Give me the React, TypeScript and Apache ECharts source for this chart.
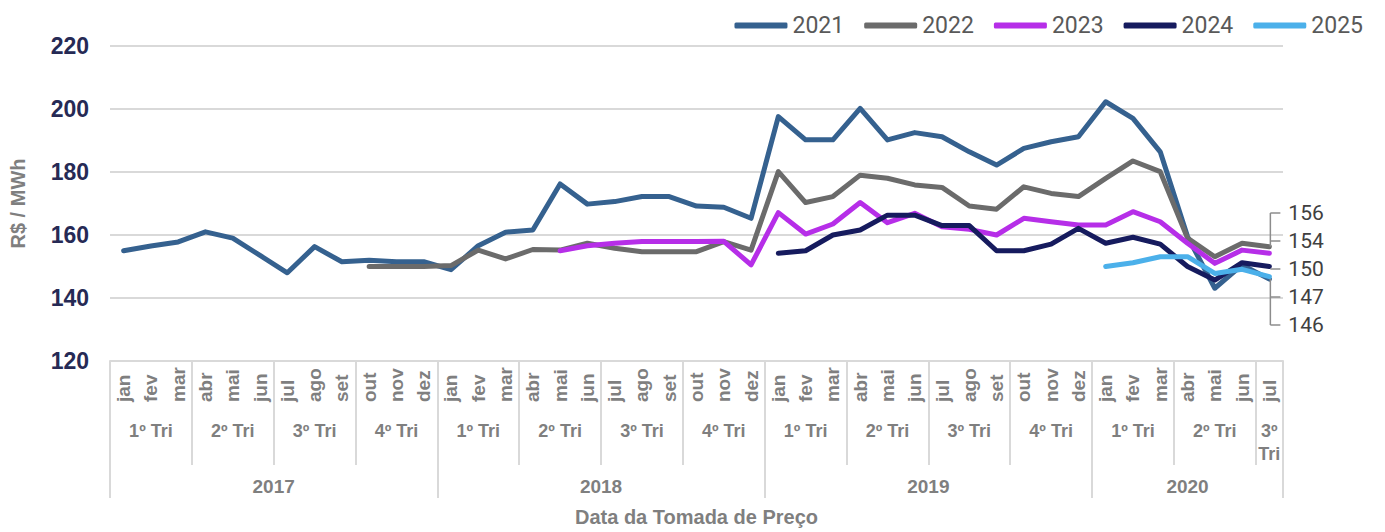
import React, { useEffect, useRef } from "react";
import * as echarts from "echarts";

const years = ["2017", "2018", "2019", "2020"];
const monthNames = ["jan", "fev", "mar", "abr", "mai", "jun", "jul", "ago", "set", "out", "nov", "dez"];
const monthsPerYear = [12, 12, 12, 7];
const quarterLabels = ["1º Tri", "2º Tri", "3º Tri", "4º Tri"];

const seriesNames = ["2021", "2022", "2023", "2024", "2025"];
const seriesColors = ["#35618f", "#6b6b6b", "#b62ee8", "#161b5e", "#4bb0ea"];

const N = null;
const s2021 = [
  155, 156.5, 157.8, 161, 159, 153.5, 148, 156.3, 151.5, 152, 151.5, 151.5,
  149, 156.6, 160.9, 161.6, 176.2, 169.8, 170.6, 172.2, 172.2, 169.2, 168.8, 165.3,
  197.6, 190.2, 190.2, 200.2, 190.2, 192.5, 191.2, 186.4, 182.2, 187.5, 189.6, 191.2,
  202.3, 197, 186.4, 159.5, 143.1, 150.5, 146,
];
const s2022 = [
  N, N, N, N, N, N, N, N, N, 150, 150, 150,
  150.3, 155.2, 152.4, 155.4, 155.2, 157.4, 155.8, 154.7, 154.7, 154.7, 157.9, 155.2,
  180.1, 170.3, 172.2, 179, 178, 175.9, 175.1, 169.2, 168.2, 175.3, 173.2, 172.2,
  178, 183.5, 180.1, 159, 153.1, 157.4, 156.3,
];
const s2023 = [
  N, N, N, N, N, N, N, N, N, N, N, N,
  N, N, N, N, 155, 156.6, 157.4, 157.9, 157.9, 157.9, 158, 150.5,
  167.1, 160.3, 163.5, 170.3, 163.9, 166.9, 162.6, 161.8, 160, 165.3, 164.2, 163.2,
  163.2, 167.4, 164.2, 157.4, 151, 155.2, 154.2,
];
const s2024 = [
  N, N, N, N, N, N, N, N, N, N, N, N,
  N, N, N, N, N, N, N, N, N, N, N, N,
  154.2, 155, 160, 161.6, 166.3, 166.3, 163, 163, 155, 155, 157.1, 162.1,
  157.4, 159.3, 157.1, 150, 145.7, 151.2, 150,
];
const s2025 = [
  N, N, N, N, N, N, N, N, N, N, N, N,
  N, N, N, N, N, N, N, N, N, N, N, N,
  N, N, N, N, N, N, N, N, N, N, N, N,
  150, 151.2, 153.1, 153.1, 147.8, 149.1, 146.8,
];
const seriesData = [s2021, s2022, s2023, s2024, s2025];

const yMin = 120;
const yMax = 220;
const yStep = 20;

export default function App() {
  const ref = useRef<HTMLDivElement>(null);

  useEffect(() => {
    if (!ref.current) return;
    const chart = echarts.init(ref.current, null, { renderer: "svg" });

    // categories
    const categories: string[] = [];
    monthsPerYear.forEach((n) => {
      for (let m = 0; m < n; m++) categories.push(monthNames[m]);
    });
    const total = categories.length;

    // quarter and year spans
    const quarterTicks: number[] = [];
    const quarterPos: number[] = [];
    const quarterText: string[] = [];
    const yearTicks: number[] = [];
    const yearPos: number[] = [];
    let start = 0;
    monthsPerYear.forEach((n) => {
      yearTicks.push(start);
      yearPos.push(start + n / 2);
      for (let q = 0; q * 3 < n; q++) {
        const qs = start + q * 3;
        const qn = Math.min(3, n - q * 3);
        quarterTicks.push(qs);
        quarterPos.push(qs + qn / 2);
        quarterText.push(qn < 3 ? quarterLabels[q].replace(" ", "\n") : quarterLabels[q]);
      }
      start += n;
    });
    quarterTicks.push(total);
    yearTicks.push(total);

    const gray = "#7f7f7f";
    const gridColor = "#d9d9d9";
    const font = "'Liberation Sans', Arial, sans-serif";

    const labelAt = (positions: number[], texts: string[]) => (v: number) => {
      const i = positions.findIndex((p) => Math.abs(p - v) < 1e-6);
      return i >= 0 ? texts[i] : "";
    };

    chart.setOption({
      animation: false,
      textStyle: { fontFamily: font },
      legend: {
        data: seriesNames,
        icon: "roundRect",
        right: 17,
        top: 9,
        itemWidth: 53,
        itemHeight: 6,
        itemGap: 20,
        textStyle: { fontSize: 23, color: "#595959", fontFamily: "Roboto, sans-serif" },
      },
      grid: { left: 110, right: 102, top: 46, bottom: 171, containLabel: false },
      xAxis: [
        {
          type: "category",
          data: categories,
          boundaryGap: true,
          axisLine: { show: true, lineStyle: { color: gridColor, width: 2 } },
          axisTick: { show: false },
          axisLabel: {
            interval: 0,
            rotate: 90,
            align: "left",
            verticalAlign: "middle",
            margin: 41,
            fontSize: 19,
            fontWeight: "bold",
            color: gray,
          },
          name: "Data da Tomada de Preço",
          nameLocation: "middle",
          nameGap: 146,
          nameTextStyle: { fontSize: 20, fontWeight: "bold", color: gray, verticalAlign: "top" },
        },
        {
          type: "value",
          min: 0,
          max: total,
          position: "bottom",
          axisLine: { show: false },
          splitLine: { show: false },
          axisTick: {
            show: true,
            customValues: quarterTicks,
            length: 104,
            lineStyle: { color: gridColor, width: 2 },
          },
          axisLabel: {
            customValues: quarterPos,
            formatter: labelAt(quarterPos, quarterText),
            margin: 58,
            fontSize: 18,
            lineHeight: 23,
            fontWeight: "bold",
            color: gray,
          },
        },
        {
          type: "value",
          min: 0,
          max: total,
          position: "bottom",
          axisLine: { show: false },
          splitLine: { show: false },
          axisTick: {
            show: true,
            customValues: yearTicks,
            length: 137,
            lineStyle: { color: gridColor, width: 2 },
          },
          axisLabel: {
            customValues: yearPos,
            formatter: labelAt(yearPos, years),
            margin: 116,
            fontSize: 19,
            fontWeight: "bold",
            color: gray,
          },
        },
      ],
      yAxis: {
        type: "value",
        min: yMin,
        max: yMax,
        interval: yStep,
        axisLine: { show: false },
        axisTick: { show: false },
        splitLine: { show: true, lineStyle: { color: gridColor, width: 2 } },
        axisLabel: { fontSize: 23, fontWeight: "bold", color: "#262a55", margin: 21 },
        name: "R$ / MWh",
        nameLocation: "middle",
        nameGap: 82,
        nameTextStyle: { fontSize: 20, fontWeight: "bold", color: gray },
      },
      series: seriesNames.map((name, i) => ({
        name,
        type: "line",
        xAxisIndex: 0,
        data: seriesData[i],
        symbol: "none",
        connectNulls: false,
        lineStyle: { color: seriesColors[i], width: 5, cap: "round", join: "round" },
        itemStyle: { color: seriesColors[i] },
        z: 2 + i,
      })),
    });

    // end-value annotations with leader lines
    const lastIdx = total - 1;
    const ends = seriesData
      .map((d) => d[lastIdx] as number)
      .sort((a, b) => b - a);
    const xEnd = chart.convertToPixel({ xAxisIndex: 0 }, lastIdx) as number;
    const xv = xEnd + 1;
    const labelTop = 213;
    const labelStep = 28;
    const labelYs = ends.map((_, i) => labelTop + i * labelStep);
    const yFirst = chart.convertToPixel({ yAxisIndex: 0 }, ends[0]) as number;
    const yLast = chart.convertToPixel({ yAxisIndex: 0 }, ends[ends.length - 1]) as number;
    const leader = { stroke: "#8c8c8c", lineWidth: 1.5 };
    const graphics: any[] = [
      { type: "line", shape: { x1: xv, y1: labelYs[0], x2: xv, y2: yFirst }, style: leader, z: 10 },
      { type: "line", shape: { x1: xv, y1: yLast, x2: xv, y2: labelYs[labelYs.length - 1] }, style: leader, z: 10 },
    ];
    labelYs.forEach((y, i) => {
      graphics.push({ type: "line", shape: { x1: xv, y1: y, x2: xv + 10, y2: y }, style: leader, z: 10 });
      graphics.push({
        type: "text",
        x: xv + 18,
        y,
        style: {
          text: String(Math.round(ends[i])),
          fontSize: 21,
          fontFamily: "Roboto, sans-serif",
          fill: "#404040",
          verticalAlign: "middle",
          align: "left",
        },
        z: 10,
      });
    });
    chart.setOption({ graphic: graphics });

    return () => chart.dispose();
  }, []);

  return (
    <div
      ref={ref}
      style={{ position: "fixed", left: 0, top: 0, width: 1385, height: 532, background: "#fff" }}
    />
  );
}
